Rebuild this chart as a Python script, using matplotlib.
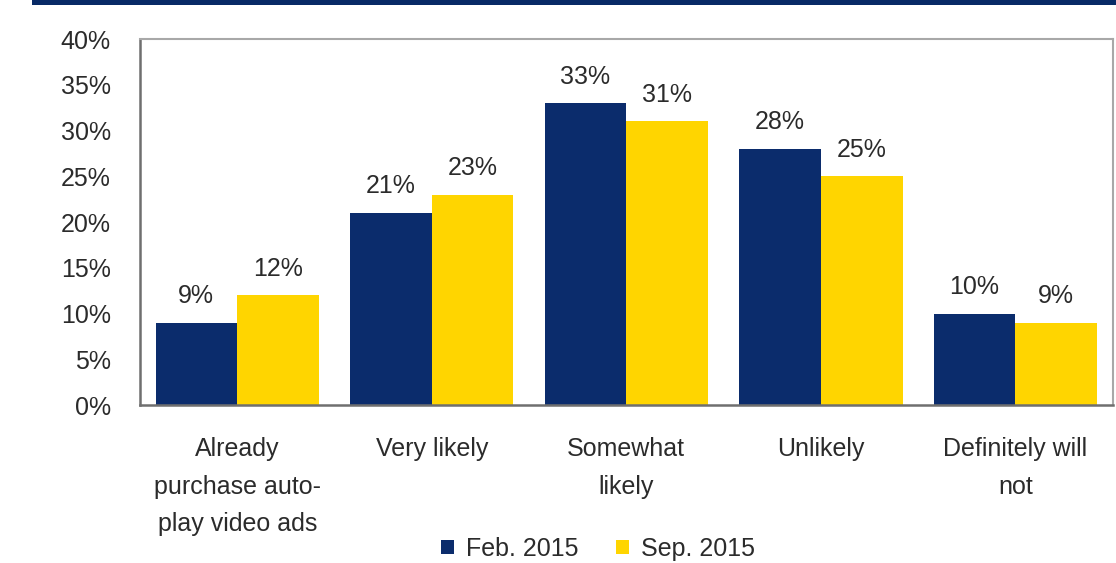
import numpy as np
import matplotlib
matplotlib.use("Agg")
import matplotlib.pyplot as plt
from matplotlib.patches import Rectangle

plt.rcParams['font.family'] = ['Liberation Sans', 'DejaVu Sans']

categories = ["Already\npurchase auto-\nplay video ads", "Very likely",
              "Somewhat\nlikely", "Unlikely", "Definitely will\nnot"]
feb_2015 = [9, 21, 33, 28, 10]
sep_2015 = [12, 23, 31, 25, 9]
series_names = ["Feb. 2015", "Sep. 2015"]
yticks = [0, 5, 10, 15, 20, 25, 30, 35, 40]

NAVY = "#0b2c6c"
YELLOW = "#ffd500"
TEXT = "#2b2b2b"
FS = 18

fig = plt.figure(figsize=(11.16, 5.63), dpi=100)
ax = fig.add_axes([0.1254, 0.2806, 0.8716, 0.6501])

# dark band along the top edge
fig.patches.append(Rectangle((0.029, 0.991), 0.971, 0.012, transform=fig.transFigure,
                             facecolor="#082a66", edgecolor="none"))

x = np.arange(len(categories))
w = 0.42
b1 = ax.bar(x - w / 2, feb_2015, w, color=NAVY, label=series_names[0])
b2 = ax.bar(x + w / 2, sep_2015, w, color=YELLOW, label=series_names[1])

for bars, vals in ((b1, feb_2015), (b2, sep_2015)):
    for rect, v in zip(bars, vals):
        ax.annotate(f"{v}%", (rect.get_x() + rect.get_width() / 2, v),
                    xytext=(0, 19), textcoords="offset points",
                    ha="center", va="center", fontsize=FS, color=TEXT)

ax.set_xlim(-0.5, len(categories) - 0.5)
ax.set_ylim(0, 40)
ax.set_yticks(yticks)
ax.set_yticklabels([f"{t}%" for t in yticks], fontsize=FS, color=TEXT)
ax.set_xticks(x)
ax.set_xticklabels(categories, fontsize=FS, color=TEXT, linespacing=1.72, va="top")
ax.tick_params(axis="both", length=0)
ax.tick_params(axis="y", pad=21)
ax.tick_params(axis="x", pad=23)

for side in ("left", "bottom"):
    ax.spines[side].set_color("#6f6f6f")
    ax.spines[side].set_linewidth(1.8)
for side in ("top", "right"):
    ax.spines[side].set_color("#a8a8a8")
    ax.spines[side].set_linewidth(1.5)

fig.legend(loc="center", bbox_to_anchor=(0.536, 0.025), ncol=2, frameon=False,
           fontsize=FS, handlelength=0.5, handleheight=0.5, handletextpad=0.5,
           columnspacing=1.5, labelcolor=TEXT)

fig.savefig("out.png", dpi=100, facecolor="white")
